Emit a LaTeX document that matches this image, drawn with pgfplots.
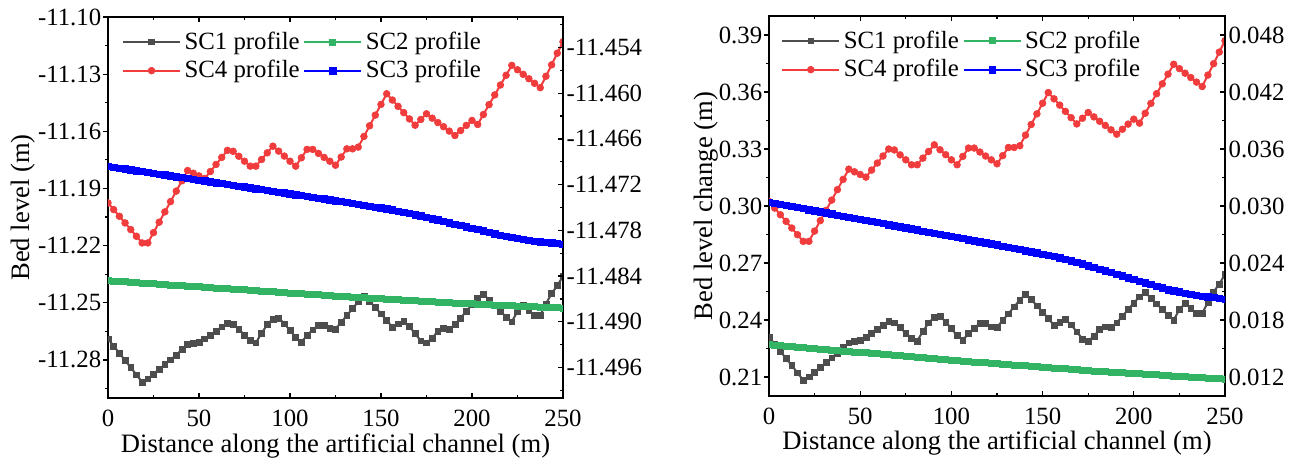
\documentclass[border=0pt]{standalone}
\usepackage{fontspec}
\setmainfont{Liberation Serif}
\usepackage{pgfplots}
\pgfplotsset{compat=1.18}
\usepackage{pgfplotstable}
\definecolor{sconeC}{RGB}{77,77,77}
\definecolor{sctwoC}{RGB}{50,180,100}
\definecolor{scthreeC}{RGB}{0,0,255}
\definecolor{scfourC}{RGB}{240,60,60}

% Bed level (m), left panel
\pgfplotstableread{
d sc1 sc4 sc2 sc3
0 -11.2689 -11.1976 -11.48460 -11.46960
3.125 -11.2727 -11.2011 -11.48465 -11.46971
6.25 -11.2765 -11.2046 -11.48470 -11.46982
9.375 -11.2802 -11.2081 -11.48475 -11.46994
12.5 -11.2840 -11.2116 -11.48480 -11.47005
15.625 -11.2878 -11.2151 -11.48485 -11.47016
18.75 -11.2916 -11.2186 -11.48490 -11.47027
21.875 -11.2899 -11.2186 -11.48495 -11.47039
25 -11.2874 -11.2132 -11.48500 -11.47050
28.125 -11.2849 -11.2077 -11.48505 -11.47061
31.25 -11.2824 -11.2023 -11.48510 -11.47072
34.375 -11.2799 -11.1969 -11.48515 -11.47084
37.5 -11.2774 -11.1914 -11.48520 -11.47095
40.625 -11.2745 -11.1860 -11.48525 -11.47106
43.75 -11.2720 -11.1806 -11.48530 -11.47117
46.875 -11.2714 -11.1820 -11.48535 -11.47129
50 -11.2708 -11.1834 -11.48540 -11.47140
53.125 -11.2689 -11.1848 -11.48545 -11.47151
56.25 -11.2670 -11.1811 -11.48550 -11.47162
59.375 -11.2648 -11.1774 -11.48555 -11.47174
62.5 -11.2626 -11.1737 -11.48560 -11.47185
65.625 -11.2608 -11.1700 -11.48565 -11.47196
68.75 -11.2615 -11.1705 -11.48570 -11.47207
71.875 -11.2640 -11.1731 -11.48575 -11.47219
75 -11.2670 -11.1757 -11.48580 -11.47230
78.125 -11.2698 -11.1783 -11.48585 -11.47241
81.25 -11.2710 -11.1783 -11.48590 -11.47252
84.375 -11.2660 -11.1748 -11.48595 -11.47264
87.5 -11.2615 -11.1713 -11.48600 -11.47275
90.625 -11.2585 -11.1678 -11.48605 -11.47286
93.75 -11.2580 -11.1704 -11.48610 -11.47297
96.875 -11.2610 -11.1730 -11.48615 -11.47309
100 -11.2645 -11.1757 -11.48620 -11.47320
103.125 -11.2682 -11.1783 -11.48625 -11.47331
106.25 -11.2706 -11.1739 -11.48630 -11.47342
109.375 -11.2672 -11.1695 -11.48635 -11.47354
112.5 -11.2642 -11.1695 -11.48640 -11.47365
115.625 -11.2618 -11.1716 -11.48645 -11.47376
118.75 -11.2618 -11.1737 -11.48650 -11.47387
121.875 -11.2636 -11.1757 -11.48655 -11.47399
125 -11.2638 -11.1778 -11.48660 -11.47410
128.125 -11.2602 -11.1735 -11.48664 -11.47422
131.25 -11.2567 -11.1692 -11.48669 -11.47434
134.375 -11.2530 -11.1692 -11.48673 -11.47446
137.5 -11.2495 -11.1683 -11.48678 -11.47458
140.625 -11.2465 -11.1627 -11.48682 -11.47470
143.75 -11.2492 -11.1571 -11.48686 -11.47482
146.875 -11.2525 -11.1515 -11.48691 -11.47494
150 -11.2558 -11.1459 -11.48695 -11.47506
153.125 -11.2592 -11.1403 -11.48700 -11.47518
156.25 -11.2628 -11.1436 -11.48704 -11.47530
159.375 -11.2610 -11.1469 -11.48708 -11.47546
162.5 -11.2598 -11.1502 -11.48713 -11.47562
165.625 -11.2625 -11.1535 -11.48717 -11.47578
168.75 -11.2662 -11.1568 -11.48722 -11.47594
171.875 -11.2700 -11.1538 -11.48726 -11.47610
175 -11.2710 -11.1508 -11.48730 -11.47628
178.125 -11.2685 -11.1531 -11.48735 -11.47646
181.25 -11.2650 -11.1554 -11.48739 -11.47664
184.375 -11.2636 -11.1576 -11.48744 -11.47682
187.5 -11.2638 -11.1599 -11.48748 -11.47700
190.625 -11.2615 -11.1622 -11.48752 -11.47718
193.75 -11.2580 -11.1596 -11.48755 -11.47736
196.875 -11.2545 -11.1569 -11.48759 -11.47754
200 -11.2510 -11.1543 -11.48762 -11.47772
203.125 -11.2478 -11.1564 -11.48766 -11.47790
206.25 -11.2455 -11.1512 -11.48770 -11.47808
209.375 -11.2485 -11.1460 -11.48773 -11.47826
212.5 -11.2515 -11.1409 -11.48777 -11.47844
215.625 -11.2545 -11.1357 -11.48780 -11.47862
218.75 -11.2575 -11.1306 -11.48784 -11.47880
221.875 -11.2600 -11.1254 -11.48788 -11.47892
225 -11.2545 -11.1277 -11.48791 -11.47904
228.125 -11.2512 -11.1301 -11.48795 -11.47916
231.25 -11.2538 -11.1324 -11.48798 -11.47928
234.375 -11.2566 -11.1348 -11.48802 -11.47940
237.5 -11.2566 -11.1371 -11.48806 -11.47948
240.625 -11.2505 -11.1311 -11.48809 -11.47956
243.75 -11.2452 -11.1251 -11.48813 -11.47964
246.875 -11.2410 -11.1190 -11.48816 -11.47972
250 -11.2360 -11.1130 -11.48820 -11.47980
}\leveltab

% Bed level change (m), right panel
\pgfplotstableread{
d sc1 sc4 sc2 sc3
0 0.2311 0.3024 0.01540 0.03040
3.125 0.2273 0.2989 0.01535 0.03029
6.25 0.2235 0.2954 0.01530 0.03018
9.375 0.2198 0.2919 0.01525 0.03006
12.5 0.2160 0.2884 0.01520 0.02995
15.625 0.2122 0.2849 0.01515 0.02984
18.75 0.2084 0.2814 0.01510 0.02973
21.875 0.2101 0.2814 0.01505 0.02961
25 0.2126 0.2868 0.01500 0.02950
28.125 0.2151 0.2923 0.01495 0.02939
31.25 0.2176 0.2977 0.01490 0.02928
34.375 0.2201 0.3031 0.01485 0.02916
37.5 0.2226 0.3086 0.01480 0.02905
40.625 0.2255 0.3140 0.01475 0.02894
43.75 0.2280 0.3194 0.01470 0.02883
46.875 0.2286 0.3180 0.01465 0.02871
50 0.2292 0.3166 0.01460 0.02860
53.125 0.2311 0.3152 0.01455 0.02849
56.25 0.2330 0.3189 0.01450 0.02838
59.375 0.2352 0.3226 0.01445 0.02826
62.5 0.2374 0.3263 0.01440 0.02815
65.625 0.2392 0.3300 0.01435 0.02804
68.75 0.2385 0.3295 0.01430 0.02793
71.875 0.2360 0.3269 0.01425 0.02781
75 0.2330 0.3243 0.01420 0.02770
78.125 0.2302 0.3217 0.01415 0.02759
81.25 0.2290 0.3217 0.01410 0.02748
84.375 0.2340 0.3252 0.01405 0.02736
87.5 0.2385 0.3287 0.01400 0.02725
90.625 0.2415 0.3322 0.01395 0.02714
93.75 0.2420 0.3296 0.01390 0.02703
96.875 0.2390 0.3270 0.01385 0.02691
100 0.2355 0.3243 0.01380 0.02680
103.125 0.2318 0.3217 0.01375 0.02669
106.25 0.2294 0.3261 0.01370 0.02658
109.375 0.2328 0.3305 0.01365 0.02646
112.5 0.2358 0.3305 0.01360 0.02635
115.625 0.2382 0.3284 0.01355 0.02624
118.75 0.2382 0.3263 0.01350 0.02613
121.875 0.2364 0.3243 0.01345 0.02601
125 0.2362 0.3222 0.01340 0.02590
128.125 0.2398 0.3265 0.013356 0.02578
131.25 0.2433 0.3308 0.013312 0.02566
134.375 0.2470 0.3308 0.013268 0.02554
137.5 0.2505 0.3317 0.013224 0.02542
140.625 0.2535 0.3373 0.013180 0.02530
143.75 0.2508 0.3429 0.013136 0.02518
146.875 0.2475 0.3485 0.013092 0.02506
150 0.2442 0.3541 0.013048 0.02494
153.125 0.2408 0.3597 0.013004 0.02482
156.25 0.2372 0.3564 0.012960 0.02470
159.375 0.2390 0.3531 0.012916 0.02454
162.5 0.2402 0.3498 0.012872 0.02438
165.625 0.2375 0.3465 0.012828 0.02422
168.75 0.2338 0.3432 0.012784 0.02406
171.875 0.2300 0.3462 0.012740 0.02390
175 0.2290 0.3492 0.012696 0.02372
178.125 0.2315 0.3469 0.012652 0.02354
181.25 0.2350 0.3446 0.012608 0.02336
184.375 0.2364 0.3424 0.012564 0.02318
187.5 0.2362 0.3401 0.012520 0.02300
190.625 0.2385 0.3378 0.012484 0.02282
193.75 0.2420 0.3404 0.012448 0.02264
196.875 0.2455 0.3431 0.012412 0.02246
200 0.2490 0.3457 0.012376 0.02228
203.125 0.2522 0.3436 0.012340 0.02210
206.25 0.2545 0.3488 0.012304 0.02192
209.375 0.2515 0.3540 0.012268 0.02174
212.5 0.2485 0.3591 0.012232 0.02156
215.625 0.2455 0.3643 0.012196 0.02138
218.75 0.2425 0.3694 0.012160 0.02120
221.875 0.2400 0.3746 0.012124 0.02108
225 0.2455 0.3723 0.012088 0.02096
228.125 0.2488 0.3699 0.012052 0.02084
231.25 0.2462 0.3676 0.012016 0.02072
234.375 0.2434 0.3652 0.011980 0.02060
237.5 0.2434 0.3629 0.011944 0.02052
240.625 0.2495 0.3689 0.011908 0.02044
243.75 0.2548 0.3749 0.011872 0.02036
246.875 0.2590 0.3810 0.011836 0.02028
250 0.2640 0.3870 0.011800 0.02020
}\changetab

\pgfplotsset{
  panel/.style={scale only axis, xmin=0, xmax=250, clip marker paths=true,
    scaled ticks=false, scaled y ticks=false, scaled x ticks=false,
    axis line style={line width=0.75pt, black},
    every tick/.style={black, line width=0.6pt},
    major tick length=2.6pt, minor tick length=1.6pt,
    tick label style={font=\fontsize{12.4}{14}\selectfont},
    label style={font=\fontsize{13.3}{15}\selectfont},
    xtick={0,50,100,150,200,250}, xticklabels={0,50,100,150,200,250},
    minor xtick={25,75,125,175,225},
  },
  mainax/.style={panel, xtick align=inside, ytick align=outside, ytick pos=left,
    xticklabel style={anchor=base, yshift=-14pt},
    yticklabel style={anchor=east, inner sep=0pt, xshift=-0.6pt},
    xlabel={Distance along the artificial channel (m)},
    xlabel style={at={(axis description cs:0.5,-0.142)}, anchor=base},
  },
  twinax/.style={panel, axis x line=none, axis y line*=right, ytick align=inside,
    yticklabel style={anchor=west, inner sep=0pt, xshift=1.6pt},
    legend columns=2, legend cell align=left,
    legend style={draw=none, fill=none, anchor=north west, inner sep=0pt,
      font=\fontsize{12.4}{14}\selectfont, row sep=2.2pt, column sep=0pt,
      nodes={inner xsep=1.8pt, inner ysep=1pt}},
    legend image code/.code={\draw[mark repeat=2,mark phase=2] plot coordinates {(0pt,0pt) (14.25pt,0pt) (28.5pt,0pt)};},
  },
  sc1/.style={color=sconeC, line width=1pt, mark=square*, mark size=1.45pt, mark options={solid, line width=0.3pt}},
  sc2/.style={color=sctwoC, line width=1pt, mark=square*, mark size=1.5pt, mark options={solid, line width=0.3pt}},
  sc3/.style={color=scthreeC, line width=1pt, mark=square*, mark size=1.6pt, mark options={solid, line width=0.3pt}},
  sc4/.style={color=scfourC, line width=1pt, mark=*, mark size=1.7pt, mark options={solid, line width=0.3pt}},
}

\begin{document}
\begin{tikzpicture}
\path[use as bounding box] (-54pt,-31.5pt) rectangle (596.5pt,199pt);

% ---------- left panel ----------
\begin{axis}[mainax, at={(0pt,0pt)}, anchor=south west, width=227.5pt, height=190.5pt,
  ymin=-11.30, ymax=-11.10,
  ytick={-11.28,-11.25,-11.22,-11.19,-11.16,-11.13,-11.10},
  yticklabels={-11.28,-11.25,-11.22,-11.19,-11.16,-11.13,-11.10},
  minor ytick={-11.295,-11.265,-11.235,-11.205,-11.175,-11.145,-11.115},
  ylabel={Bed level (m)},
  ylabel style={at={(axis description cs:-0.172,0.5)}, anchor=base},
]
\addplot[sc1] table[x=d, y=sc1] {\leveltab};
\addplot[sc4] table[x=d, y=sc4] {\leveltab};
\end{axis}
\begin{axis}[twinax, at={(0pt,0pt)}, anchor=south west, width=227.5pt, height=190.5pt,
  ymin=-11.50, ymax=-11.45,
  ytick={-11.496,-11.490,-11.484,-11.478,-11.472,-11.466,-11.460,-11.454},
  yticklabels={-11.496,-11.490,-11.484,-11.478,-11.472,-11.466,-11.460,-11.454},
  minor ytick={-11.499,-11.493,-11.487,-11.481,-11.475,-11.469,-11.463,-11.457,-11.451},
  legend style={at={(0.030,0.968)}},
]
\addlegendimage{sc1}\addlegendentry{SC1 profile}
\addplot[sc2] table[x=d, y=sc2] {\leveltab};\addlegendentry{SC2 profile}
\addlegendimage{sc4}\addlegendentry{SC4 profile}
\addplot[sc3] table[x=d, y=sc3] {\leveltab};\addlegendentry{SC3 profile}
\end{axis}

% ---------- right panel ----------
\begin{axis}[mainax, at={(330.5pt,1pt)}, anchor=south west, width=228pt, height=190pt,
  ymin=0.20, ymax=0.40,
  ytick={0.21,0.24,0.27,0.30,0.33,0.36,0.39},
  yticklabels={0.21,0.24,0.27,0.30,0.33,0.36,0.39},
  minor ytick={0.225,0.255,0.285,0.315,0.345,0.375},
  ylabel={Bed level change (m)},
  ylabel style={at={(axis description cs:-0.123,0.5)}, anchor=base},
]
\addplot[sc1] table[x=d, y=sc1] {\changetab};
\addplot[sc4] table[x=d, y=sc4] {\changetab};
\end{axis}
\begin{axis}[twinax, at={(330.5pt,1pt)}, anchor=south west, width=228pt, height=190pt,
  ymin=0.010, ymax=0.050,
  ytick={0.012,0.018,0.024,0.030,0.036,0.042,0.048},
  yticklabels={0.012,0.018,0.024,0.030,0.036,0.042,0.048},
  minor ytick={0.015,0.021,0.027,0.033,0.039,0.045},
  legend style={at={(0.026,0.968)}},
]
\addlegendimage{sc1}\addlegendentry{SC1 profile}
\addplot[sc2] table[x=d, y=sc2] {\changetab};\addlegendentry{SC2 profile}
\addlegendimage{sc4}\addlegendentry{SC4 profile}
\addplot[sc3] table[x=d, y=sc3] {\changetab};\addlegendentry{SC3 profile}
\end{axis}
\end{tikzpicture}
\end{document}
